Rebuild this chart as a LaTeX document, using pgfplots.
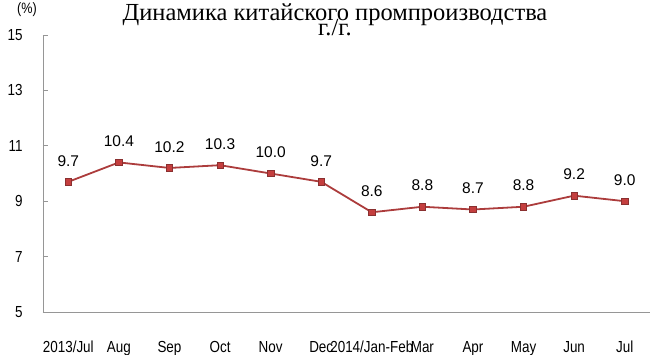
\documentclass[border=0pt]{standalone}
\usepackage{pgfplots}
\pgfplotsset{compat=1.18}
\usepackage{fontspec}
\setmainfont{Liberation Serif}
\newfontfamily\timesfont{Liberation Serif}
\newfontfamily\arial{Liberation Sans}
\newfontfamily\arialn[FakeStretch=0.84]{Liberation Sans}
\definecolor{axisgray}{RGB}{150,150,150}
\definecolor{linered}{RGB}{172,60,60}
\definecolor{markred}{RGB}{196,62,62}
\begin{document}
\begin{tikzpicture}
\path[use as bounding box] (-43bp,-43bp) rectangle (607bp,312bp);
\begin{axis}[
  at={(0,0)}, anchor=south west,
  scale only axis, width=607bp, height=277bp,
  xmin=-0.5, xmax=11.5, ymin=5, ymax=15,
  axis x line*=bottom, axis y line*=left,
  axis line style={axisgray, line width=0.8bp},
  every tick/.style={axisgray, line width=0.6bp},
  tick align=inside,
  ytick={5,7,9,11,13,15},
  xtick={0,...,11},
  xticklabels={2013/Jul,Aug,Sep,Oct,Nov,Dec,2014/Jan-Feb,Mar,Apr,May,Jun,Jul},
  minor xtick={0.5,1.5,...,10.5},
  x tick style={draw=none},
  minor x tick style={axisgray, line width=0.6bp},
  minor tick length=5bp,
  major tick length=5bp,
  /pgf/number format/assume math mode=true,
  yticklabel style={font=\arialn\fontsize{16bp}{16bp}\selectfont, xshift=-17bp},
  xticklabel style={font=\arialn\fontsize{16bp}{16bp}\selectfont, yshift=-29bp, inner sep=0pt},
  nodes near coords={\pgfmathprintnumber[fixed,fixed zerofill,precision=1]{\pgfplotspointmeta}},
  every node near coord/.append style={font=\arial\fontsize{15.5bp}{15.5bp}\selectfont, black, anchor=south, yshift=12bp},
  clip=false,
]
\addplot[linered, line width=1.8bp, mark=square*, mark size=3.2bp,
  mark options={fill=markred, draw=linered!80!black, line width=0.6bp}]
  coordinates {(0,9.7) (1,10.4) (2,10.2) (3,10.3) (4,10.0) (5,9.7) (6,8.6) (7,8.8) (8,8.7) (9,8.8) (10,9.2) (11,9.0)};
\end{axis}
\node[anchor=base, font=\timesfont\fontsize{24.5bp}{24.5bp}\selectfont, inner sep=0pt] at (292bp,291bp) {Динамика китайского промпроизводства};
\node[anchor=base, font=\timesfont\fontsize{24.5bp}{24.5bp}\selectfont, inner sep=0pt] at (292bp,276bp) {г./г.};
\node[font=\arialn\fontsize{15bp}{15bp}\selectfont, inner sep=0pt] at (-16bp,302bp) {(\%)};
\end{tikzpicture}
\end{document}
